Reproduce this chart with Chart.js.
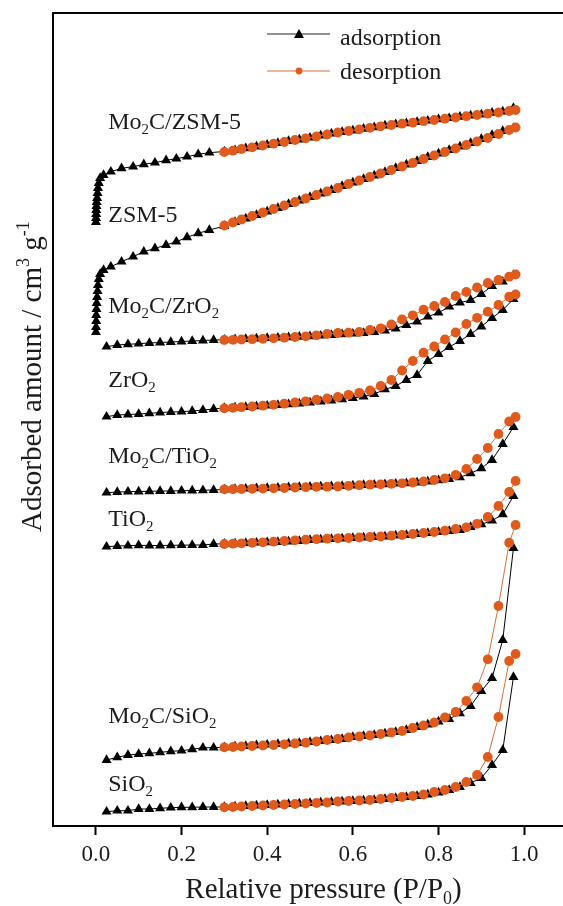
<!DOCTYPE html>
<html>
<head>
<meta charset="utf-8">
<script src="https://cdn.jsdelivr.net/npm/chart.js@4.4.1/dist/chart.umd.min.js"></script>
<style>
  html, body { margin: 0; padding: 0; background: #fff; overflow: hidden; }
</style>
</head>
<body>
<canvas id="iso" width="580" height="906"></canvas>
<script>
// x axis ticks
const tickVals = [0, 0.2, 0.4, 0.6, 0.8, 1.0];
const tickLabels = ['0.0', '0.2', '0.4', '0.6', '0.8', '1.0'];

// relative pressures (P/P0)
const pAds = [0.025, 0.05, 0.075, 0.1, 0.125, 0.15, 0.175, 0.2, 0.225, 0.25, 0.275,
  0.3, 0.325, 0.35, 0.375, 0.4, 0.425, 0.45, 0.475, 0.5, 0.525, 0.55, 0.575, 0.6, 0.625,
  0.65, 0.675, 0.7, 0.725, 0.75, 0.775, 0.8, 0.825, 0.85, 0.875, 0.9, 0.925, 0.95, 0.975];
const pAdsZ = [0.0003, 0.0005, 0.0008, 0.001, 0.0015, 0.002, 0.003, 0.004, 0.005, 0.007, 0.01,
  0.018, 0.035, 0.06, 0.087, 0.112, 0.138, 0.164, 0.188, 0.213, 0.239, 0.265,
  0.3, 0.325, 0.35, 0.375, 0.4, 0.425, 0.45, 0.475, 0.5, 0.525, 0.55, 0.575, 0.6, 0.625,
  0.65, 0.675, 0.7, 0.725, 0.75, 0.775, 0.8, 0.825, 0.85, 0.875, 0.9, 0.925, 0.95, 0.975];
const pDes = [0.98, 0.965, 0.94, 0.915, 0.89, 0.865, 0.84, 0.815, 0.79, 0.765, 0.74, 0.715,
  0.69, 0.665, 0.64, 0.615, 0.59, 0.565, 0.54, 0.515, 0.49, 0.465, 0.44, 0.415, 0.39,
  0.365, 0.34, 0.32, 0.3];

// adsorbed amount (curves offset, arbitrary units)
const adsMoZSM = [604, 608, 612, 616, 620, 624, 628, 633, 638, 643, 648, 651, 654.3, 657.7,
  659.3, 661.7, 663.3, 665.7, 667.3, 669.3, 671.7, 673.3,
  674.5, 675.8, 677.7, 679.5, 681.2, 683, 685, 686.5, 688.3, 690.5, 692.5, 694, 695.5, 697.2,
  698.7, 700.4, 701.7, 702.7, 704, 705.3, 706.6, 707.8, 709.2, 710.4, 711.5, 713.2, 714.5, 718];
const desMoZSM = [716, 715, 713.5, 712.3, 711, 709.8, 708.5, 707.3, 706, 704.8, 703.3, 702.3,
  701, 699.7, 698.2, 696.6, 695, 693.5, 691.5, 689.5, 687.7, 686, 684, 682.3, 680.5,
  678.7, 677, 675.3, 674];

const adsZSM = [494, 499, 505, 511, 517, 523, 529, 535, 541, 547, 552, 556, 559.3, 564.3,
  569.3, 574.3, 577.7, 581, 584.3, 588.7, 592.7, 596,
  600, 604, 607.5, 611, 614.5, 618, 622, 625.5, 629, 632.5, 636, 640, 643.5, 647,
  650.5, 654, 658, 661.5, 665, 669, 672.5, 676, 679.5, 683, 687, 691, 695, 698];
const desZSM = [698.5, 696, 692, 688, 684.5, 681, 677.5, 674, 670.5, 667, 663, 659.5,
  656, 652.5, 649, 645.5, 642, 638, 634.5, 631, 627.5, 624, 620.5, 617, 613.5,
  610, 606.5, 603.5, 600.5];

const adsMoZr = [479.3, 481, 481.7, 482.3, 483, 483.5, 484, 484.5, 485, 485.5, 486,
  486.3, 486.7, 487, 487.5, 488, 488.3, 488.7, 489.2, 489.7, 490.3, 491, 491.7, 492.3, 493,
  494, 495.5, 497.5, 501, 504.3, 509.3, 513.3, 519.3, 523.3, 526, 532, 540, 544.3, 551];
const desMoZr = [551.5, 549.3, 546, 543, 538.5, 534, 530, 524, 520, 516.3, 510.7, 506.5,
  501.5, 497.7, 496, 494, 493.3, 493, 492, 490.7, 489.7, 489, 488.3, 487.7, 487.2,
  486.8, 486.5, 486.2, 486];

const adsZr = [409.3, 411, 411.5, 412, 412.7, 413.5, 414, 414.3, 415, 416, 417,
  418, 418.5, 419, 419.7, 420.3, 421, 421.7, 422.5, 423.5, 424.5, 425.5, 426.7, 428, 429.5,
  432, 436.7, 440, 446, 451, 465, 472, 479, 485, 492, 499.5, 508, 516, 527];
const desZr = [531.5, 529.3, 521, 514.3, 508.2, 502, 493.5, 486.5, 479.5, 473.3, 465, 455.5,
  446, 440, 435.5, 433.2, 431.2, 429, 427.5, 426.3, 424.7, 423.5, 422.3, 421.2, 420.3,
  419.5, 418.8, 418.2, 417.7];

const adsMoTi = [333.3, 334, 334.3, 334.5, 334.7, 335, 335, 335.3, 335.5, 335.7, 336,
  336.5, 337, 337.3, 337.7, 338, 338.3, 338.7, 339, 339.3, 339.5, 339.7, 340, 340.5, 341,
  341.3, 341.7, 342.3, 342.7, 343.5, 344.5, 345.7, 347, 348.7, 352.7, 357.7, 366, 382, 399];
const desMoTi = [409, 404.5, 392, 378, 367, 357, 351, 347.7, 346, 344.5, 343.5, 342.7,
  342.2, 341.7, 341.3, 340.8, 340.2, 339.5, 339.3, 339.2, 338.8, 338.5, 338, 337.7, 337.4,
  337.2, 337, 336.8, 336.7];

const adsTi = [279.3, 280, 280.3, 280.7, 280.5, 280.5, 280.7, 280.8, 281, 281, 282,
  282.2, 282.5, 283, 283.3, 283.7, 284, 284.5, 285, 286, 286.5, 287, 287.5, 288, 288.5,
  289, 289.5, 290.5, 291, 292, 293, 294, 295, 296, 299, 301.7, 305.3, 311.7, 330];
const desTi = [345, 334, 320, 309, 302.2, 298.7, 297, 295.3, 294, 293, 292, 291,
  290.3, 289.5, 289, 288.5, 288, 287.7, 287.3, 286.8, 286.3, 285.7, 285, 284.3, 283.7,
  283.2, 282.7, 282.3, 282];

const adsMoSi = [66, 68.7, 71, 72, 72.7, 73.7, 74.7, 75.3, 76.7, 78.3, 78.3,
  78.7, 79.5, 80, 80.7, 81.3, 82, 82.5, 83, 84, 84.8, 85.8, 87, 89, 90,
  91, 92.5, 94, 96, 99, 101.5, 104.5, 107, 112.7, 120, 135, 148, 186, 278];
const desMoSi = [301, 283.3, 220, 166.7, 138.7, 125, 114, 108.5, 103.5, 100.5, 98, 95,
  93.5, 92, 90.5, 89.5, 88.5, 87, 86, 84.5, 83.3, 82.5, 81.7, 81, 80.5,
  80, 79.5, 79, 78.7];

const adsSi = [14.3, 15.3, 15.3, 17, 17, 17.7, 18.3, 18.7, 18.7, 19, 19,
  19, 19.5, 20, 20.5, 21, 21.5, 22, 22.5, 23, 23.5, 24, 24.5, 25, 25.5,
  26, 27, 28, 29, 30, 31.5, 33.5, 36, 39, 43, 48, 61, 76, 149];
const desSi = [172, 165, 109, 69, 51, 44, 39, 36, 34, 31.5, 30, 29,
  28, 27, 26, 25.5, 25, 24.5, 23.5, 23, 22.5, 22, 21.5, 21, 20.5,
  20, 19.5, 19, 18.7];

// sample names (with subscripts) and where they sit, in data units
const sampleNames = [
  [['Mo'], ['2', 'sub'], ['C/ZSM-5']],
  [['ZSM-5']],
  [['Mo'], ['2', 'sub'], ['C/ZrO'], ['2', 'sub']],
  [['ZrO'], ['2', 'sub']],
  [['Mo'], ['2', 'sub'], ['C/TiO'], ['2', 'sub']],
  [['TiO'], ['2', 'sub']],
  [['Mo'], ['2', 'sub'], ['C/SiO'], ['2', 'sub']],
  [['SiO'], ['2', 'sub']]
];
const nameAt = [[0.029, 697], [0.029, 604], [0.029, 513], [0.029, 439],
  [0.029, 363], [0.029, 300], [0.029, 103], [0.029, 35]];

const FONT = 'Liberation Serif';
const TXT = '#1c1c1c';
const ORANGE = '#E05A1C';
const ORANGE_LINE = '#D8703A';

function ads(p, v) {
  return {
    data: p.map((x, i) => ({ x: x, y: v[i] })),
    showLine: true,
    borderColor: '#000',
    borderWidth: 1,
    pointStyle: 'triangle',
    pointRadius: 5.8,
    pointBackgroundColor: '#000',
    pointBorderColor: '#000',
    pointBorderWidth: 0,
    order: 2
  };
}

function des(p, v) {
  return {
    data: p.map((x, i) => ({ x: x, y: v[i] })),
    showLine: true,
    borderColor: ORANGE_LINE,
    borderWidth: 1,
    pointStyle: 'circle',
    pointRadius: 4.9,
    pointBackgroundColor: ORANGE,
    pointBorderColor: ORANGE,
    pointBorderWidth: 0,
    order: 1
  };
}

function richWidth(ctx, parts, size) {
  let w = 0;
  for (const [t, mode] of parts) {
    ctx.font = (mode ? size * 0.62 : size) + 'px "' + FONT + '"';
    w += ctx.measureText(t).width;
  }
  return w;
}

function richText(ctx, parts, x, y, size) {
  let cx = x;
  for (const [t, mode] of parts) {
    ctx.font = (mode ? size * 0.62 : size) + 'px "' + FONT + '"';
    const dy = mode === 'sub' ? size * 0.2 : (mode === 'sup' ? -size * 0.4 : 0);
    ctx.fillText(t, cx, y + dy);
    cx += ctx.measureText(t).width;
  }
}

const decor = {
  id: 'decor',
  afterDraw(chart) {
    const { ctx, chartArea: a, scales: { x, y } } = chart;
    ctx.save();
    // top frame line
    ctx.strokeStyle = '#000';
    ctx.lineWidth = 2;
    ctx.beginPath();
    ctx.moveTo(a.left - 1, a.top);
    ctx.lineTo(a.right, a.top);
    ctx.stroke();

    ctx.fillStyle = TXT;
    ctx.textAlign = 'left';
    ctx.textBaseline = 'alphabetic';
    sampleNames.forEach((parts, i) => {
      richText(ctx, parts, x.getPixelForValue(nameAt[i][0]), y.getPixelForValue(nameAt[i][1]), 24);
    });

    // legend
    ctx.lineWidth = 1;
    ctx.strokeStyle = '#222';
    ctx.beginPath(); ctx.moveTo(267, 34); ctx.lineTo(330, 34); ctx.stroke();
    ctx.fillStyle = '#000';
    ctx.beginPath();
    ctx.moveTo(299, 29); ctx.lineTo(304, 38); ctx.lineTo(294, 38); ctx.closePath(); ctx.fill();
    ctx.strokeStyle = ORANGE_LINE;
    ctx.beginPath(); ctx.moveTo(267, 71); ctx.lineTo(330, 71); ctx.stroke();
    ctx.fillStyle = ORANGE;
    ctx.beginPath(); ctx.arc(299, 71, 3.4, 0, Math.PI * 2); ctx.fill();
    ctx.fillStyle = TXT;
    ctx.font = '24px "' + FONT + '"';
    ctx.fillText('adsorption', 340, 45);
    ctx.fillText('desorption', 340, 79);

    // axis titles
    const xt = [['Relative pressure (P/P'], ['0', 'sub'], [')']];
    richText(ctx, xt, 323.5 - richWidth(ctx, xt, 29) / 2, 898, 29);
    ctx.translate(41, 532);
    ctx.rotate(-Math.PI / 2);
    richText(ctx, [['Adsorbed amount / cm'], ['3', 'sup'], [' g'], ['-1', 'sup']], 0, 0, 29);
    ctx.restore();
  }
};

new Chart(document.getElementById('iso'), {
  type: 'scatter',
  data: {
    datasets: [
      ads(pAdsZ, adsMoZSM), des(pDes, desMoZSM),
      ads(pAdsZ, adsZSM), des(pDes, desZSM),
      ads(pAds, adsMoZr), des(pDes, desMoZr),
      ads(pAds, adsZr), des(pDes, desZr),
      ads(pAds, adsMoTi), des(pDes, desMoTi),
      ads(pAds, adsTi), des(pDes, desTi),
      ads(pAds, adsMoSi), des(pDes, desMoSi),
      ads(pAds, adsSi), des(pDes, desSi)
    ]
  },
  options: {
    responsive: false,
    animation: false,
    layout: { padding: { top: 13, right: 13, left: 0, bottom: 0 } },
    plugins: { legend: { display: false }, tooltip: { enabled: false } },
    scales: {
      x: {
        type: 'linear',
        min: -0.1,
        max: 1.1,
        afterBuildTicks: s => { s.ticks = tickVals.map(v => ({ value: v })); },
        afterFit: s => { s.height = 80; },
        ticks: {
          callback: (v, i) => tickLabels[i],
          font: { family: FONT, size: 23 },
          color: TXT,
          padding: 6,
          maxRotation: 0,
          autoSkip: false
        },
        grid: { drawOnChartArea: false, drawTicks: true, tickLength: 9, tickWidth: 2, tickColor: '#000' },
        border: { display: true, color: '#000', width: 2 }
      },
      y: {
        type: 'linear',
        min: 0,
        max: 813,
        afterFit: s => { s.width = 53; },
        ticks: { display: false },
        grid: { display: false },
        border: { display: true, color: '#000', width: 2 }
      }
    }
  },
  plugins: [decor]
});
</script>
</body>
</html>
